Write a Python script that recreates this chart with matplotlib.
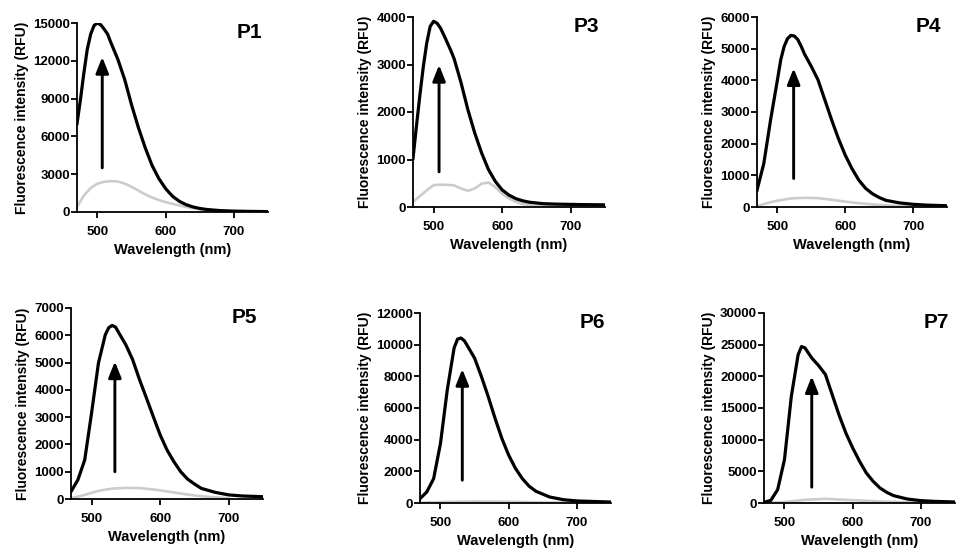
import matplotlib
matplotlib.use("Agg")
import matplotlib.pyplot as plt

plt.rcParams['font.family'] = ['Liberation Sans', 'DejaVu Sans']
plt.rcParams['font.weight'] = 'bold'

# ---------------- data ----------------
titles = ["P1", "P3", "P4", "P5", "P6", "P7"]

p1_wl_black = [470, 475, 480, 485, 490, 495, 500, 505, 510, 515, 520, 525, 530, 540, 550, 560, 570, 580,
               590, 600, 610, 620, 630, 640, 650, 660, 680, 700, 720, 750]
p1_black = [7000, 8900, 11000, 12900, 14100, 14800, 15000, 14850, 14500, 14100, 13400, 12750, 12100, 10500,
            8500, 6700, 5100, 3700, 2650, 1850, 1250, 850, 580, 400, 280, 200, 110, 70, 50, 30]
p1_wl_gray = [470, 480, 490, 500, 510, 520, 530, 540, 550, 560, 570, 580, 590, 600, 610, 620, 630, 640,
              660, 680, 700]
p1_gray = [400, 1300, 1900, 2250, 2400, 2450, 2420, 2250, 2000, 1700, 1400, 1150, 950, 780, 650, 520, 400,
           300, 130, 60, 30]

p3_wl_black = [470, 475, 480, 485, 490, 495, 500, 505, 510, 515, 520, 525, 530, 540, 550, 560, 570, 580,
               590, 600, 610, 620, 630, 640, 660, 680, 700, 720, 750]
p3_black = [1020, 1700, 2350, 2950, 3450, 3800, 3910, 3870, 3770, 3620, 3460, 3300, 3120, 2620, 2050, 1560,
            1140, 790, 540, 360, 250, 175, 130, 100, 70, 60, 55, 50, 45]
p3_wl_gray = [470, 480, 490, 500, 510, 520, 530, 540, 550, 560, 570, 580, 590, 600, 610, 620, 630, 650, 700]
p3_gray = [105, 230, 350, 460, 470, 465, 455, 390, 340, 390, 490, 515, 420, 280, 180, 110, 60, 30, 20]

p4_wl_black = [470, 480, 490, 500, 505, 510, 515, 520, 525, 530, 535, 540, 550, 560, 570, 580, 590, 600,
               610, 620, 630, 640, 650, 660, 680, 700, 720, 750]
p4_black = [530, 1370, 2750, 4000, 4650, 5070, 5320, 5420, 5400, 5290, 5080, 4830, 4440, 4010, 3380, 2750,
            2160, 1640, 1210, 850, 590, 420, 300, 210, 130, 85, 60, 40]
p4_wl_gray = [470, 490, 500, 520, 540, 560, 580, 600, 620, 640, 660, 700]
p4_gray = [30, 150, 200, 270, 290, 280, 230, 170, 120, 80, 50, 20]

p5_wl_black = [470, 480, 490, 500, 510, 520, 525, 530, 535, 540, 550, 560, 570, 580, 590, 600, 610, 620,
               630, 640, 650, 660, 680, 700, 720, 750]
p5_black = [270, 700, 1430, 3150, 4980, 6020, 6280, 6360, 6300, 6080, 5650, 5100, 4370, 3700, 3020, 2350,
            1800, 1370, 1000, 730, 550, 390, 245, 150, 110, 85]
p5_wl_gray = [470, 490, 510, 530, 550, 570, 590, 610, 630, 650, 670, 700]
p5_gray = [30, 150, 300, 380, 410, 400, 350, 280, 200, 130, 80, 30]

p6_wl_black = [470, 480, 490, 500, 510, 520, 525, 530, 535, 540, 550, 560, 570, 580, 590, 600, 610, 620,
               630, 640, 660, 680, 700, 750]
p6_black = [275, 700, 1540, 3760, 7150, 9790, 10350, 10420, 10250, 9890, 9150, 7990, 6720, 5350, 4080,
            3020, 2180, 1540, 1060, 740, 380, 210, 130, 60]
p6_wl_gray = [470, 500, 550, 600, 650, 700, 750]
p6_gray = [30, 60, 100, 80, 40, 20, 10]

p7_wl_black = [470, 480, 490, 500, 510, 520, 525, 530, 540, 550, 560, 570, 580, 590, 600, 610, 620, 630,
               640, 650, 660, 680, 700, 720, 750]
p7_black = [100, 420, 2100, 6840, 16800, 23400, 24700, 24500, 22900, 21700, 20300, 17100, 13900, 11050,
            8700, 6600, 4740, 3420, 2370, 1680, 1160, 630, 370, 260, 160]
p7_wl_gray = [470, 500, 530, 560, 600, 650, 700, 750]
p7_gray = [0, 150, 500, 650, 450, 200, 80, 30]

y_max = [15000, 4000, 6000, 7000, 12000, 30000]
y_step = [3000, 1000, 1000, 1000, 2000, 5000]
x_ticks = [500, 600, 700]

# arrow: wavelength, start intensity, end intensity
arrow_x = [507, 508, 524, 534, 532, 540]
arrow_y0 = [3500, 740, 900, 1000, 1440, 2500]
arrow_y1 = [12300, 2990, 4380, 5040, 8460, 20000]

black_wl = [p1_wl_black, p3_wl_black, p4_wl_black, p5_wl_black, p6_wl_black, p7_wl_black]
black_y = [p1_black, p3_black, p4_black, p5_black, p6_black, p7_black]
gray_wl = [p1_wl_gray, p3_wl_gray, p4_wl_gray, p5_wl_gray, p6_wl_gray, p7_wl_gray]
gray_y = [p1_gray, p3_gray, p4_gray, p5_gray, p6_gray, p7_gray]

# ---------------- layout (pixels) ----------------
W, H = 965, 555
boxes = [(77, 23, 191, 189), (413, 17, 192, 190), (757, 17, 190, 190),
         (71, 308, 192, 191), (420, 313, 191, 190), (764, 313, 191, 190)]

fig = plt.figure(figsize=(W / 100, H / 100), dpi=100)

for i in range(6):
    l, t, w, h = boxes[i]
    ax = fig.add_axes([l / W, 1 - (t + h) / H, w / W, h / H])
    ax.plot(gray_wl[i], gray_y[i], color='#cccccc', lw=1.9, solid_capstyle='round', zorder=2)
    ax.plot(black_wl[i], black_y[i], color='black', lw=2.3, zorder=3)
    ax.annotate('', xy=(arrow_x[i], arrow_y1[i]), xytext=(arrow_x[i], arrow_y0[i]),
                arrowprops=dict(arrowstyle='-|>,head_length=0.6,head_width=0.24', color='black',
                                lw=2.1, mutation_scale=16, shrinkA=0, shrinkB=0), zorder=4)
    ax.set_xlim(470, 750)
    ax.set_ylim(0, y_max[i])
    ax.set_xticks(x_ticks)
    ax.set_yticks(list(range(0, y_max[i] + 1, y_step[i])))
    for s in ['top', 'right']:
        ax.spines[s].set_visible(False)
    for s in ['left', 'bottom']:
        ax.spines[s].set_linewidth(1.3)
    ax.tick_params(axis='x', direction='out', length=4, width=1.3, labelsize=9.5, pad=6)
    ax.tick_params(axis='y', direction='out', length=4, width=1.3, labelsize=9.5, pad=1)
    for lab in ax.get_xticklabels() + ax.get_yticklabels():
        lab.set_fontweight('bold')
    ax.set_xlabel('Wavelength (nm)', fontsize=10.5, fontweight='bold', labelpad=4)
    ax.set_ylabel('Fluorescence intensity (RFU)', fontsize=10, fontweight='bold', labelpad=3)
    ax.text(0.97, 1.0, titles[i], transform=ax.transAxes, ha='right', va='top',
            fontsize=15, fontweight='bold')

fig.savefig('out.png', dpi=100, facecolor='white')
